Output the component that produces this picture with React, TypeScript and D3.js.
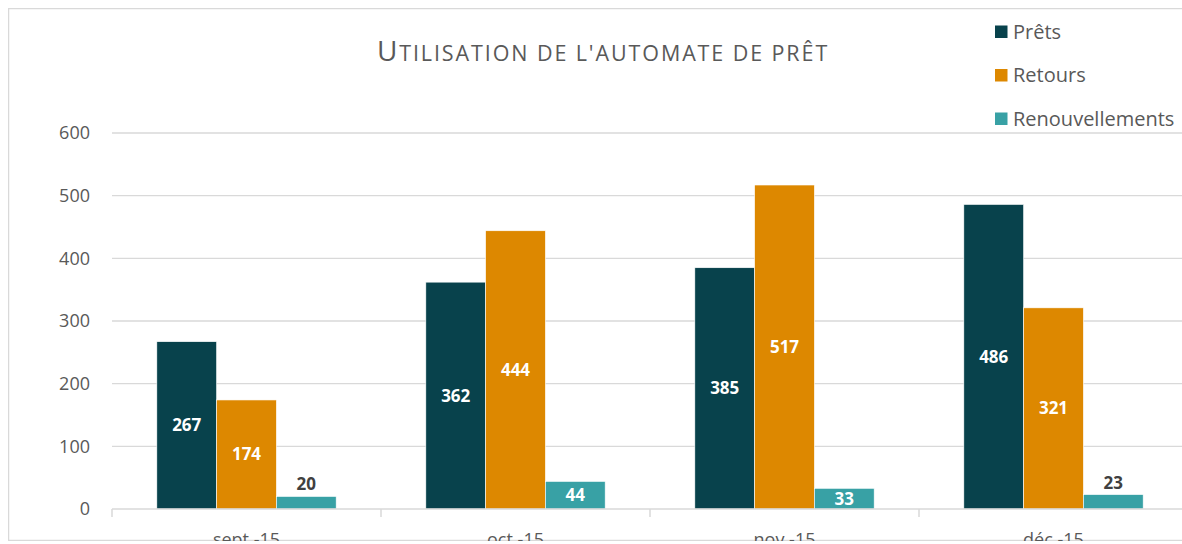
import React, { useRef, useEffect } from 'react'
import * as d3 from 'd3'

const months = ['sept.-15', 'oct.-15', 'nov.-15', 'déc.-15']
const series = ['Prêts', 'Retours', 'Renouvellements']
const prets = [267, 362, 385, 486]
const retours = [174, 444, 517, 321]
const renouvellements = [20, 44, 33, 23]
const yTicks = [0, 100, 200, 300, 400, 500, 600]
const colors = ['#08424C', '#DD8800', '#38A1A5']

const FONT = '"Open Sans", "Noto Sans", sans-serif'

const App = () => {
  const svgRef = useRef<SVGSVGElement>(null)

  useEffect(() => {
    const w = 1182
    const svg = d3.select(svgRef.current)
    svg.selectAll('*').remove()

    svg.append('defs').append('clipPath').attr('id', 'chartClip')
      .append('rect').attr('x', 8).attr('y', 8).attr('width', w).attr('height', 533)

    const root = svg.append('g').attr('clip-path', 'url(#chartClip)')

    // frame
    root.append('rect')
      .attr('x', 8.5).attr('y', 8.5)
      .attr('width', w + 20).attr('height', 532)
      .attr('fill', '#fff')
      .attr('stroke', '#d9d9d9')
      .attr('stroke-width', 1.5)

    // scales
    const x0 = d3.scaleBand<string>()
      .domain(months)
      .range([112, 1188])
      .paddingInner(1 / 3)
      .paddingOuter(1 / 6)
    const step = x0.step()
    const x1 = d3.scaleBand<string>()
      .domain(series)
      .range([0, x0.bandwidth()])
    const y = d3.scaleLinear().domain([0, 600]).range([509, 133])

    // gridlines
    root.append('g').selectAll('line')
      .data(yTicks.filter(t => t > 0))
      .join('line')
        .attr('x1', 112).attr('x2', w + 10)
        .attr('y1', d => y(d)).attr('y2', d => y(d))
        .attr('stroke', '#d9d9d9')
        .attr('stroke-width', 1.3)

    // y axis labels
    root.append('g').selectAll('text')
      .data(yTicks)
      .join('text')
        .attr('x', 90)
        .attr('y', d => y(d))
        .attr('dy', '0.35em')
        .attr('text-anchor', 'end')
        .attr('font-family', FONT)
        .attr('font-size', 18)
        .attr('fill', '#595959')
        .text(d => d)

    const valuesBySeries = [prets, retours, renouvellements]
    const data = months.map((m, i) => ({
      month: m,
      vals: series.map((s, j) => ({ key: s, value: valuesBySeries[j][i], idx: j }))
    }))

    const groups = root.append('g').selectAll('g')
      .data(data)
      .join('g')
        .attr('transform', d => `translate(${x0(d.month)},0)`)

    groups.selectAll('rect')
      .data(d => d.vals)
      .join('rect')
        .attr('x', d => x1(d.key)!)
        .attr('width', x1.bandwidth())
        .attr('y', d => y(d.value))
        .attr('height', d => y(0) - y(d.value))
        .attr('fill', d => colors[d.idx])
        .attr('stroke', '#fff')
        .attr('stroke-width', 0.6)

    groups.selectAll('text')
      .data(d => d.vals)
      .join('text')
        .attr('x', d => x1(d.key)! + x1.bandwidth() / 2)
        .attr('y', d => {
          const hgt = y(0) - y(d.value)
          return hgt > 20 ? y(d.value) + hgt / 2 : y(d.value) - 12
        })
        .attr('dy', '0.35em')
        .attr('text-anchor', 'middle')
        .attr('font-family', FONT)
        .attr('font-weight', 'bold')
        .attr('font-size', 17)
        .attr('fill', d => (y(0) - y(d.value) > 20 ? '#fff' : '#404040'))
        .text(d => d.value)

    // x axis
    root.append('line')
      .attr('x1', 112).attr('x2', w + 10)
      .attr('y1', y(0)).attr('y2', y(0))
      .attr('stroke', '#d9d9d9')
      .attr('stroke-width', 1.5)
    root.append('g').selectAll('line')
      .data(d3.range(months.length + 1))
      .join('line')
        .attr('x1', i => 112 + i * step).attr('x2', i => 112 + i * step)
        .attr('y1', y(0)).attr('y2', y(0) + 8)
        .attr('stroke', '#d9d9d9')
        .attr('stroke-width', 1.5)
    root.append('g').selectAll('text')
      .data(months)
      .join('text')
        .attr('x', d => x0(d)! + x0.bandwidth() / 2)
        .attr('y', 546)
        .attr('text-anchor', 'middle')
        .attr('font-family', FONT)
        .attr('font-size', 18)
        .attr('fill', '#595959')
        .text(d => d)

    // title in small caps: only the first letter is full size
    const title = root.append('text')
      .attr('x', 603)
      .attr('y', 61)
      .attr('text-anchor', 'middle')
      .attr('font-family', FONT)
      .attr('fill', '#595959')
      .attr('letter-spacing', 1.9)
    const parts: [string, number][] = [
      ['U', 28], ["TILISATION DE L'AUTOMATE DE PRÊT", 21.5]
    ]
    title.selectAll('tspan')
      .data(parts)
      .join('tspan')
        .attr('font-size', d => d[1])
        .text(d => d[0])

    // legend
    const legend = root.append('g').selectAll('g')
      .data(series)
      .join('g')
        .attr('transform', (d, i) => `translate(995,${25.5 + i * 43.5})`)
    legend.append('rect')
      .attr('width', 12.5).attr('height', 12.5)
      .attr('fill', (d, i) => colors[i])
    legend.append('text')
      .attr('x', 18)
      .attr('y', 6)
      .attr('dy', '0.35em')
      .attr('font-family', FONT)
      .attr('font-size', 20)
      .attr('fill', '#595959')
      .text(d => d)
  }, [])

  return (
    <div style={{ position: 'absolute', left: 0, top: 0 }}>
      <svg ref={svgRef} width={1182} height={544} style={{ display: 'block' }}></svg>
    </div>
  )
}

export default App
